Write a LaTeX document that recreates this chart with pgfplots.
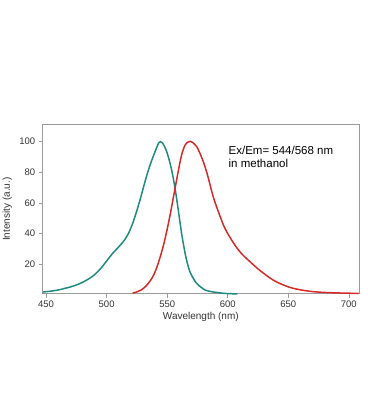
\documentclass[border=0pt]{standalone}
\usepackage{fontspec}
\setmainfont{Liberation Sans}
\usepackage{pgfplots}
\pgfplotsset{compat=1.18}
\definecolor{exc}{HTML}{1E8A80}
\definecolor{emi}{HTML}{D42A2A}
\definecolor{frame}{HTML}{9A9A9A}
\definecolor{txt}{HTML}{333333}
\begin{document}
\begin{tikzpicture}
\path[use as bounding box] (0,0) rectangle (368bp,417bp);
\begin{axis}[
  at={(42.7bp,123.3bp)}, anchor=south west,
  scale only axis, width=316.3bp, height=169bp,
  xmin=447.2, xmax=708.4, ymin=0.6, ymax=111.1,
  xtick={450,500,...,700}, ytick={20,40,60,80,100},
  xtick pos=bottom, ytick pos=left,
  tick align=outside, major tick length=4bp,
  every tick/.style={frame, line width=0.6pt},
  axis line style={frame, line width=0.8pt},
  /pgf/number format/assume math mode=true,
  ticklabel style={font=\fontsize{9.5bp}{11bp}\selectfont, text=txt},
  label style={font=\fontsize{10bp}{12bp}\selectfont, text=txt},
  xlabel={Wavelength (nm)}, ylabel={Intensity (a.u.)},
  xlabel style={at={(axis description cs:0.5,-0.140)}, anchor=center},
  ylabel style={at={(axis description cs:-0.112,0.5)}, anchor=center},
  clip=false,
]
\addplot[exc, line width=1.5pt, smooth, tension=0.5] coordinates {
(447.5,1.7)(450,1.9)(455,2.4)(460,3.0)(465,4.0)(470,5.0)(475,6.3)(480,8.0)
(485,10.2)(490,13.0)(495,17.0)(500,22.0)(505,27.0)(510,31.2)(515,36.0)
(518,40.0)(521,45.5)(524,52.5)(527.6,62)(530,69)(533,77.5)(536,85)(539,91.5)
(541.5,96.5)(543,99.2)(544.3,100)(545.8,99.4)(547.5,97.3)(549.6,93.5)(551.5,88.5)
(553.8,81)(556.5,69.5)(559.3,54.5)(562,39.5)(564.8,27)(567,19.5)(569,14.5)
(572,10)(574.4,7.3)(578,4.8)(581.3,3.0)(586,2.0)(591,1.4)(596,0.9)(602,0.6)(608,0.5)
};
\addplot[emi, line width=1.5pt, smooth, tension=0.5] coordinates {
(521.5,1.0)(525,1.8)(528,2.8)(531,4.5)(533,6.0)(536,9)(539,13)(541.5,18)
(544,24)(547,32.5)(549.5,41)(552.4,52)(554.5,61)(556.5,69.5)(558.5,78)
(560.7,87)(562.5,93)(564.8,97.8)(567,99.7)(569,100.2)(571,99.5)(574.4,96.7)
(577,92.5)(580,86.5)(583,79)(585.5,71.5)(588,64)(591,57)(594,50.5)(597,44.5)
(601,38.5)(605,33.5)(609,29)(613,25.5)(618,21.8)(624,17.5)(630,13.7)(635,10.8)
(640,8.4)(646,6.3)(651,4.8)(657,3.6)(664,2.6)(671,1.9)(678,1.5)(685,1.25)
(695,1.0)(708,0.8)
};
\node[anchor=west, align=left, inner sep=0pt, font=\fontsize{11.5bp}{12.6bp}\selectfont, text=black]
  at (axis cs:600.6,90) {Ex/Em= 544/568 nm\\in methanol};
\end{axis}
\end{tikzpicture}
\end{document}
